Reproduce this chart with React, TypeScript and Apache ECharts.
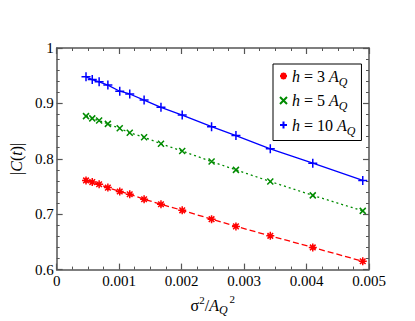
import React, { useEffect, useRef } from "react";
import * as echarts from "echarts";

const xValues = [0.00047, 0.00057, 0.00068, 0.00082, 0.00101, 0.00117, 0.0014, 0.00167, 0.00201, 0.00248, 0.00287, 0.00342, 0.0041, 0.0049];
const yH3 = [0.761, 0.758, 0.754, 0.748, 0.741, 0.736, 0.727, 0.718, 0.707, 0.691, 0.678, 0.661, 0.640, 0.615];
const yH5 = [0.877, 0.873, 0.869, 0.863, 0.855, 0.847, 0.839, 0.827, 0.814, 0.795, 0.780, 0.759, 0.734, 0.706];
const yH10 = [0.948, 0.943, 0.939, 0.933, 0.922, 0.917, 0.906, 0.893, 0.879, 0.858, 0.842, 0.818, 0.792, 0.761];
const hLabels = ["3", "5", "10"];
const colors = ["#ff0000", "#008b00", "#0000ff"];
const xTicks = [0, 0.001, 0.002, 0.003, 0.004, 0.005];
const yTicks = [0.6, 0.7, 0.8, 0.9, 1];

const FONT = "Liberation Serif";
const AXIS_COLOR = "#555";

const symbols = [
  "path://M0,-10L0,10M-10,0L10,0M-7,-7L7,7M-7,7L7,-7",
  "path://M-10,-10L10,10M-10,10L10,-10",
  "path://M-10,0L10,0M0,-10L0,10",
];
const symbolSizes = [8, 6, 9];
const lineTypes: any[] = [[6, 3], [2, 3], "solid"];

export default function App() {
  const ref = useRef<HTMLDivElement>(null);
  useEffect(() => {
    if (!ref.current) return;
    const chart = echarts.init(ref.current, null, { renderer: "svg" });
    const allY = [yH3, yH5, yH10];
    const names = hLabels.map((h) => `h = ${h} AQ`);
    const rich = {
      i: { fontStyle: "italic", fontFamily: FONT, fontSize: 16, color: "#000" },
      n: { fontFamily: FONT, fontSize: 16, color: "#000" },
      sub: { fontStyle: "italic", fontFamily: FONT, fontSize: 12, color: "#000", padding: [11, 0, 0, 0] },
    };
    const axisLine = { show: true, onZero: false, lineStyle: { color: AXIS_COLOR, width: 1.5 } };
    const axisTick = { show: true, inside: true, length: 6, lineStyle: { color: AXIS_COLOR, width: 1.2 } };
    const series: any[] = [];
    allY.forEach((ys, k) => {
      series.push({
        name: names[k] + " fit",
        type: "line",
        data: xValues.map((x, i) => [x, ys[i]]),
        showSymbol: false,
        silent: true,
        lineStyle: { color: colors[k], width: 1.3, type: lineTypes[k] },
        z: 2,
      });
    });
    allY.forEach((ys, k) => {
      series.push({
        name: names[k],
        type: "scatter",
        data: xValues.map((x, i) => [x, ys[i]]),
        symbol: symbols[k],
        symbolSize: symbolSizes[k],
        itemStyle: { color: colors[k], borderColor: colors[k], borderWidth: 1.5, opacity: 1 },
        z: 3,
      });
    });
    chart.setOption({
      animation: false,
      backgroundColor: "#fff",
      textStyle: { fontFamily: FONT },
      grid: { left: 47, top: 48, right: 46, bottom: 49 },
      legend: {
        data: names,
        orient: "vertical",
        left: 273,
        top: 64,
        padding: [4, 6, 4, 6],
        itemGap: 5,
        itemWidth: 7,
        itemHeight: 7,
        borderColor: "#000",
        borderWidth: 1,
        backgroundColor: "#fff",
        selectedMode: false,
        formatter: (name: string) => {
          const h = name.split(" ")[2];
          return `{i|h}{n| = ${h} }{i|A}{sub|Q}`;
        },
        textStyle: { fontFamily: FONT, fontSize: 16, color: "#000", rich },
      },
      xAxis: [
        {
          type: "value",
          position: "bottom",
          min: xTicks[0],
          max: xTicks[xTicks.length - 1],
          interval: 0.001,
          minorTick: { show: true, splitNumber: 4, length: 3, lineStyle: { color: AXIS_COLOR, width: 1 } },
          axisLine,
          axisTick,
          splitLine: { show: false },
          axisLabel: { color: "#000", fontFamily: FONT, fontSize: 15, margin: 4 },
          name: "{s|σ}{sup|2}{s|/}{i|A}{sub|Q}{sup2|2}",
          nameLocation: "middle",
          nameGap: 20,
          nameTextStyle: {
            color: "#000",
            fontFamily: FONT,
            fontSize: 16,
            rich: {
              s: { fontFamily: FONT, fontSize: 16, color: "#000" },
              i: { fontFamily: FONT, fontSize: 16, fontStyle: "italic", color: "#000" },
              sup: { fontFamily: FONT, fontSize: 11, color: "#000", padding: [0, 0, 10, 0] },
              sup2: { fontFamily: FONT, fontSize: 11, color: "#000", padding: [0, 0, 12, 2] },
              sub: { fontFamily: FONT, fontSize: 12, fontStyle: "italic", color: "#000", padding: [10, 0, 0, 0] },
            },
          },
        },
        {
          type: "value",
          position: "top",
          min: xTicks[0],
          max: xTicks[xTicks.length - 1],
          interval: 0.001,
          minorTick: { show: true, splitNumber: 4, length: 3, lineStyle: { color: AXIS_COLOR, width: 1 } },
          axisLine,
          axisTick,
          splitLine: { show: false },
          axisLabel: { show: false },
        },
      ],
      yAxis: [
        {
          type: "value",
          position: "left",
          min: yTicks[0],
          max: yTicks[yTicks.length - 1],
          interval: 0.1,
          minorTick: { show: true, splitNumber: 5, length: 3, lineStyle: { color: AXIS_COLOR, width: 1 } },
          axisLine,
          axisTick,
          splitLine: { show: false },
          axisLabel: { color: "#000", fontFamily: FONT, fontSize: 15, margin: 3 },
          name: "|{i|C}({i|t})|",
          nameLocation: "middle",
          nameGap: 24,
          nameRotate: 90,
          nameTextStyle: {
            color: "#000",
            fontFamily: FONT,
            fontSize: 16,
            rich: {
              i: { fontFamily: FONT, fontSize: 16, fontStyle: "italic", color: "#000" },
            },
          },
        },
        {
          type: "value",
          position: "right",
          min: yTicks[0],
          max: yTicks[yTicks.length - 1],
          interval: 0.1,
          minorTick: { show: true, splitNumber: 5, length: 3, lineStyle: { color: AXIS_COLOR, width: 1 } },
          axisLine,
          axisTick,
          splitLine: { show: false },
          axisLabel: { show: false },
        },
      ],
      series,
    });
    return () => chart.dispose();
  }, []);
  return (
    <div
      ref={ref}
      style={{ position: "fixed", left: 0, top: 0, width: 415, height: 321 }}
    />
  );
}
